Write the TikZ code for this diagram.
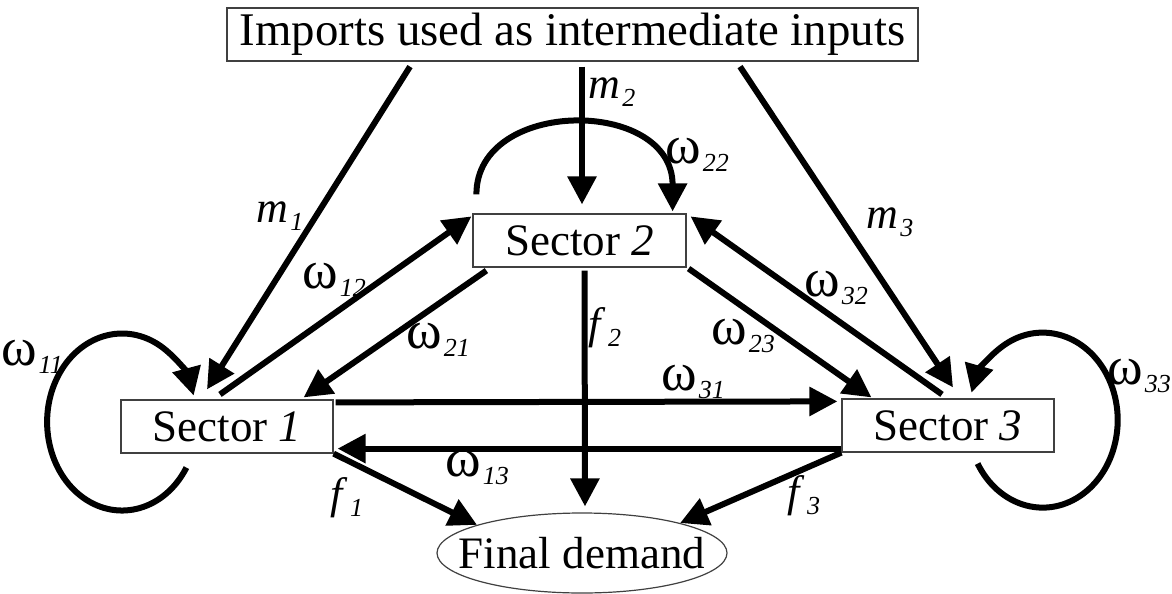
\documentclass[tikz,border=0pt]{standalone}
\usepackage{fontspec}
\setmainfont{Liberation Serif}
\usetikzlibrary{arrows.meta, shapes.geometric, positioning}

\newcommand{\idx}[1]{\kern1pt\raisebox{-4pt}{\fontsize{13}{13}\selectfont\itshape #1}}
\newcommand{\om}{{\fontsize{27}{27}\selectfont ω}}

\begin{document}
\begin{tikzpicture}[
  x=0.5pt, y=-0.5pt,
  sector/.style={draw=black!75, line width=0.6pt, inner sep=0pt, minimum height=26.5pt, font=\fontsize{22.5}{27}\selectfont},
  flow/.style={line width=3pt, -{Triangle[length=14pt,width=14pt]}},
  lab/.style={inner sep=0pt, font=\fontsize{22}{24}\selectfont},
]
  \useasboundingbox (0,0) rectangle (1172,594);

  % Boxes
  \node[sector, minimum width=345.5pt, font=\fontsize{23.4}{27}\selectfont] (imp) at (572.5,34.5) {Imports used as intermediate inputs};
  \node[sector, minimum width=106pt] (s1) at (227,426.5) {Sector \textit{1}};
  \node[sector, minimum width=106.5pt] (s2) at (579.5,240.5) {Sector \textit{2}};
  \node[sector, minimum width=106pt] (s3) at (948,425.5) {Sector \textit{3}};
  \node[ellipse, draw=black!75, line width=0.6pt, inner sep=0pt, minimum width=145pt, minimum height=40pt, font=\fontsize{22.5}{27}\selectfont] (fd) at (582,553) {\makebox[0pt]{Final demand}};

  % Imports
  \draw[flow] ([xshift=-81.25pt,yshift=-2.5pt]imp.south) -- ([xshift=-10pt,yshift=5pt]s1.north);
  \draw[flow] ([xshift=4.75pt,yshift=-2.5pt]imp.south) -- ([xshift=1.25pt,yshift=4.5pt]s2.north);
  \draw[flow] ([xshift=83.75pt,yshift=-2.5pt]imp.south) -- ([xshift=2.5pt,yshift=5.5pt]s3.north);

  % Own use
  \draw[flow] ([xshift=2pt,yshift=9.5pt]s2.north west) .. controls +(0,48.5pt) and +(0,57pt) .. ([xshift=-7pt,yshift=1pt]s2.north east);
  \draw[flow] ([xshift=33pt,yshift=-7pt]s1.south west) arc[start angle=-31, end angle=-342.6, x radius=37.5pt, y radius=44.25pt];
  \draw[flow] ([xshift=-38.5pt,yshift=-5.5pt]s3.south east) arc[start angle=209.8, end angle=521.7, x radius=37.5pt, y radius=43.75pt];

  % Between sectors
  \draw[flow] ([xshift=-3.5pt,yshift=2.5pt]s1.north) -- ([xshift=-0.5pt,yshift=-1.5pt]s2.north west);
  \draw[flow] ([xshift=7pt,yshift=-1.5pt]s2.south west) -- ([xshift=-15pt,yshift=1pt]s1.north east);
  \draw[flow] ([xshift=-3pt,yshift=2pt]s3.north) -- ([xshift=2pt,yshift=-1.5pt]s2.north east);
  \draw[flow] ([xshift=1pt,yshift=-0.5pt]s2.south east) -- ([xshift=15pt,yshift=0.5pt]s3.north west);
  \draw[flow] ([xshift=1pt,yshift=-1.5pt]s1.north east) -- ([xshift=-2pt,yshift=-1.5pt]s3.north west);
  \draw[flow] ([yshift=2pt]s3.south west) -- ([xshift=2pt,yshift=2.5pt]s1.south east);

  % Final demand
  \draw[flow] (s1.south east) -- (fd.165);
  \draw[flow] ([xshift=2.5pt,yshift=-1.5pt]s2.south) -- ([xshift=1.5pt,yshift=3pt]fd.north);
  \draw[flow] (s3.south west) -- (fd.17);

  % Labels
  \node[lab] (lm1) at (280,216) {\textit{m}\idx{1}};
  \node[lab] (lm2) at (612,92) {\textit{m}\idx{2}};
  \node[lab] (lm3) at (890,222) {\textit{m}\idx{3}};
  \node[lab] (lw11) at (32,357) {\om\idx{11}};
  \node[lab] (lw22) at (697,155) {\om\idx{22}};
  \node[lab] (lw33) at (1139,376) {\om\idx{33}};
  \node[lab] (lw12) at (334,280) {\om\idx{12}};
  \node[lab] (lw21) at (438,340) {\om\idx{21}};
  \node[lab] (lw32) at (836,288) {\om\idx{32}};
  \node[lab] (lw23) at (743,336) {\om\idx{23}};
  \node[lab] (lw31) at (693,382) {\om\idx{31}};
  \node[lab] (lw13) at (477,468) {\om\idx{13}};
  \node[lab] (lf1) at (347,498) {\textit{f}\idx{1}};
  \node[lab] (lf2) at (605,328) {\textit{f}\idx{2}};
  \node[lab] (lf3) at (804,496) {\textit{f}\idx{3}};
\end{tikzpicture}
\end{document}
